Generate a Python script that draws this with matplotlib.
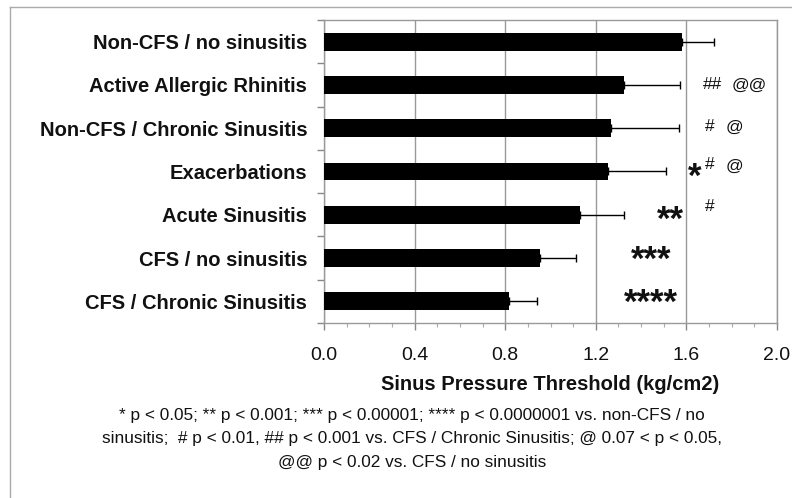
import matplotlib
matplotlib.use("Agg")
import matplotlib.pyplot as plt
from matplotlib.lines import Line2D
from matplotlib.ticker import MultipleLocator, FixedLocator

plt.rcParams['font.family'] = ['Liberation Sans', 'DejaVu Sans']

categories = [
    "Non-CFS / no sinusitis",
    "Active Allergic Rhinitis",
    "Non-CFS / Chronic Sinusitis",
    "Exacerbations",
    "Acute Sinusitis",
    "CFS / no sinusitis",
    "CFS / Chronic Sinusitis",
]
means = [1.58, 1.325, 1.267, 1.255, 1.13, 0.955, 0.815]
sem = [0.14, 0.247, 0.30, 0.255, 0.195, 0.157, 0.127]

# significance marks per category
stars = ["", "", "", "*", "**", "***", "****"]
hashes = ["", "##", "#", "#", "#", "", ""]
ats = ["", "@@", "@", "@", "", "", ""]

x_ticks = [0.0, 0.4, 0.8, 1.2, 1.6, 2.0]
x_label = "Sinus Pressure Threshold (kg/cm2)"
footnote = [
    "* p < 0.05; ** p < 0.001; *** p < 0.00001; **** p < 0.0000001 vs. non-CFS / no",
    "sinusitis;  # p < 0.01, ## p < 0.001 vs. CFS / Chronic Sinusitis; @ 0.07 < p < 0.05,",
    "@@ p < 0.02 vs. CFS / no sinusitis",
]

W, H = 792, 498
fig = plt.figure(figsize=(W / 100, H / 100), dpi=100)
ax = fig.add_axes([324 / W, 1 - 323 / H, (777 - 324) / W, (323 - 20) / H])

ypos = list(range(len(categories)))
ax.barh(ypos, means, height=0.41, color="black", zorder=3,
        xerr=[[0] * len(sem), sem],
        error_kw=dict(ecolor="black", elinewidth=1.0, capsize=3, capthick=1.0, zorder=4))

ax.set_xlim(0, 2.0)
ax.set_ylim(len(categories) - 0.5, -0.5)

ax.xaxis.set_major_locator(FixedLocator(x_ticks))
ax.xaxis.set_minor_locator(MultipleLocator(0.1))
ax.set_xticklabels([f"{t:.1f}" for t in x_ticks], fontsize=14, color="#111111")
ax.tick_params(axis="x", which="major", direction="out", length=5, width=1,
               color="#888888", pad=12.5)
ax.tick_params(axis="x", which="minor", direction="out", length=3, width=0.8,
               color="#aaaaaa")

ax.set_yticks(ypos)
ax.set_yticklabels(categories, fontsize=14.5, fontweight="bold", color="#111111")
ax.yaxis.set_minor_locator(FixedLocator([i - 0.5 for i in range(len(categories) + 1)]))
ax.tick_params(axis="y", which="major", length=0, pad=12)
ax.tick_params(axis="y", which="minor", direction="out", length=5, width=1,
               color="#888888")

ax.grid(axis="x", which="major", color="#999999", linewidth=1.0, zorder=0)
for s in ax.spines.values():
    s.set_color("#999999")
    s.set_linewidth(1.0)

ax.set_xlabel(x_label, fontsize=14.5, fontweight="bold", labelpad=7.5, color="#111111")

# significance annotations
star_left = {1: 1.607, 2: 1.47, 3: 1.355, 4: 1.325}
star_raise_px = {1: 2.5, 2: 3.0, 3: 6.5, 4: 6.0}
for i, s in enumerate(stars):
    if not s:
        continue
    n = len(s)
    base_px = 18.0 - star_raise_px[n]
    ax.annotate(s, xy=(star_left[n], i), xytext=(0, -base_px * 0.72),
                textcoords="offset points", ha="left", va="baseline",
                fontsize=25, fontweight="bold", color="#111111", zorder=5)
for i, h in enumerate(hashes):
    if not h:
        continue
    dy = -0.2 if i == 4 else (-0.17 if i == 3 else (-0.03 if i == 2 else 0))
    ax.text(1.68 if len(h) == 1 else 1.672, i + dy, h, ha="left", va="center",
            fontsize=12.5, color="#111111", zorder=5)
for i, a in enumerate(ats):
    if not a:
        continue
    dy = -0.12 if i == 3 else (-0.03 if i == 2 else 0)
    ax.text(1.775 if len(a) == 1 else 1.80, i + dy, a, ha="left", va="center",
            fontsize=12.5, color="#111111", zorder=5)

# footnote
for k, line in enumerate(footnote):
    fig.text(412 / W, 1 - (415 + 23.5 * k) / H, line, ha="center", va="center",
             fontsize=12.4, color="#111111")

# outer frame (left and top edges)
fig.add_artist(Line2D([10 / W, 10 / W], [0, 1 - 7 / H], transform=fig.transFigure,
                      color="#aaaaaa", linewidth=1.0))
fig.add_artist(Line2D([10 / W, 1], [1 - 7 / H, 1 - 7 / H], transform=fig.transFigure,
                      color="#aaaaaa", linewidth=1.0))

fig.savefig("out.png", dpi=100, facecolor="white")
